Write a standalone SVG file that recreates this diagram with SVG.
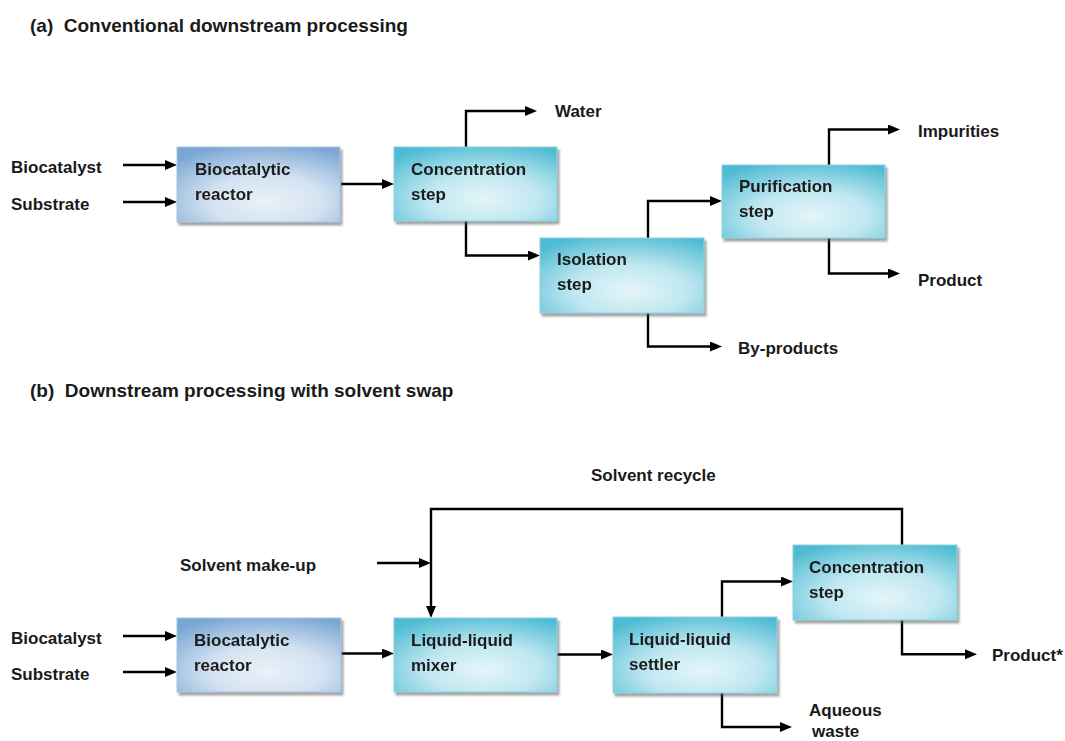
<svg xmlns="http://www.w3.org/2000/svg" width="1065" height="741" viewBox="0 0 1065 741">
<defs>
<style>
text{font-family:"Liberation Sans",Arial,sans-serif;font-weight:bold;fill:#1a1a1a}
.lbl{font-size:17px}
.ttl{font-size:19px}
.wire{fill:none;stroke:#000;stroke-width:2.4;stroke-linejoin:miter}
.arr{marker-end:url(#ah)}
.blue{fill:url(#gBlue);stroke:#a9c3de;stroke-width:1}
.cyan{fill:url(#gCyan);stroke:#8dd0de;stroke-width:1}
.box{filter:url(#sh)}
</style>
<radialGradient id="gBlue" cx="0.55" cy="0.72" r="0.78">
<stop offset="0" stop-color="#eaf1f8"/>
<stop offset="0.45" stop-color="#d3e2f1"/>
<stop offset="1" stop-color="#7aa6d4"/>
</radialGradient>
<radialGradient id="gCyan" cx="0.55" cy="0.7" r="0.78">
<stop offset="0" stop-color="#e4f5f9"/>
<stop offset="0.45" stop-color="#bfe7f0"/>
<stop offset="1" stop-color="#4dbbd3"/>
</radialGradient>
<filter id="sh" x="-10%" y="-10%" width="125%" height="135%">
<feDropShadow dx="2" dy="3" stdDeviation="1.3" flood-color="#555" flood-opacity="0.55"/>
</filter>
<marker id="ah" markerUnits="userSpaceOnUse" markerWidth="13" markerHeight="11" refX="5" refY="5" orient="auto">
<path d="M0,0 L12,5 L0,10 Z" fill="#000"/>
</marker>
</defs>
<rect width="1065" height="741" fill="#fff"/>

<g id="titles">
<text class="ttl" x="30" y="32" xml:space="preserve">(a)  Conventional downstream processing</text>
<text class="ttl" x="30" y="397" xml:space="preserve">(b)  Downstream processing with solvent swap</text>
</g>

<g id="connectors">
<!-- panel a -->
<line class="wire arr" x1="123" y1="165" x2="170" y2="165"/>
<line class="wire arr" x1="123" y1="202" x2="170" y2="202"/>
<line class="wire arr" x1="341" y1="184" x2="387" y2="184"/>
<path class="wire arr" d="M466,147 V111 H530"/>
<path class="wire arr" d="M466,221 V255.5 H533"/>
<path class="wire arr" d="M648,238 V201 H715"/>
<path class="wire arr" d="M829,165 V129.5 H893"/>
<path class="wire arr" d="M829,238 V273.5 H893"/>
<path class="wire arr" d="M648,313 V346.5 H715"/>
<!-- panel b -->
<line class="wire arr" x1="123" y1="636" x2="170" y2="636"/>
<line class="wire arr" x1="123" y1="672" x2="170" y2="672"/>
<line class="wire arr" x1="341" y1="653.5" x2="387" y2="653.5"/>
<line class="wire arr" x1="557" y1="654.5" x2="606" y2="654.5"/>
<line class="wire arr" x1="377" y1="563" x2="424" y2="563"/>
<path class="wire arr" d="M902,545 V509 H431 V611"/>
<path class="wire arr" d="M722,617 V581.5 H786"/>
<path class="wire arr" d="M902,620 V654.3 H970"/>
<path class="wire arr" d="M722,693 V727 H785"/>
</g>

<g id="inputs-a">
<text class="lbl" x="11" y="172.5">Biocatalyst</text>
<text class="lbl" x="11" y="209.5">Substrate</text>
</g>

<g id="reactor-a" class="box">
<rect class="blue" x="177" y="147" width="163" height="75"/>
<text class="lbl" x="195" y="175">Biocatalytic</text>
<text class="lbl" x="195" y="200">reactor</text>
</g>

<g id="concentration-a" class="box">
<rect class="cyan" x="394" y="147" width="163" height="74"/>
<text class="lbl" x="411" y="175">Concentration</text>
<text class="lbl" x="411" y="200">step</text>
</g>

<g id="isolation-a" class="box">
<rect class="cyan" x="540" y="238" width="164" height="75"/>
<text class="lbl" x="557" y="265">Isolation</text>
<text class="lbl" x="557" y="290">step</text>
</g>

<g id="purification-a" class="box">
<rect class="cyan" x="722" y="165" width="163" height="73"/>
<text class="lbl" x="739" y="192">Purification</text>
<text class="lbl" x="739" y="217">step</text>
</g>

<g id="outputs-a">
<text class="lbl" x="555" y="117">Water</text>
<text class="lbl" x="918" y="137">Impurities</text>
<text class="lbl" x="918" y="286">Product</text>
<text class="lbl" x="738" y="354">By-products</text>
</g>

<g id="inputs-b">
<text class="lbl" x="11" y="644">Biocatalyst</text>
<text class="lbl" x="11" y="680">Substrate</text>
<text class="lbl" x="180" y="571">Solvent make-up</text>
<text class="lbl" x="591" y="481">Solvent recycle</text>
</g>

<g id="reactor-b" class="box">
<rect class="blue" x="177" y="618" width="164" height="74"/>
<text class="lbl" x="194" y="646">Biocatalytic</text>
<text class="lbl" x="194" y="671">reactor</text>
</g>

<g id="mixer-b" class="box">
<rect class="cyan" x="394" y="618" width="163" height="74"/>
<text class="lbl" x="411" y="646">Liquid-liquid</text>
<text class="lbl" x="411" y="671">mixer</text>
</g>

<g id="settler-b" class="box">
<rect class="cyan" x="613" y="617" width="164" height="76"/>
<text class="lbl" x="629" y="645">Liquid-liquid</text>
<text class="lbl" x="629" y="670">settler</text>
</g>

<g id="concentration-b" class="box">
<rect class="cyan" x="793" y="545" width="164" height="75"/>
<text class="lbl" x="809" y="573">Concentration</text>
<text class="lbl" x="809" y="598">step</text>
</g>

<g id="outputs-b">
<text class="lbl" x="992" y="661">Product*</text>
<text class="lbl" x="809" y="716">Aqueous</text>
<text class="lbl" x="812" y="737">waste</text>
</g>
</svg>
